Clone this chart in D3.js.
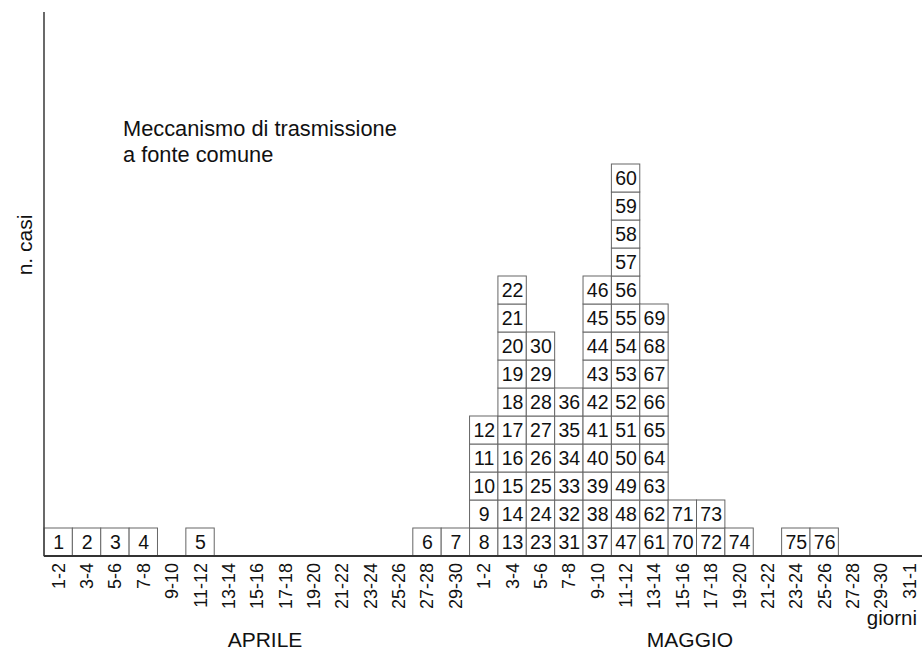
<!DOCTYPE html>
<html>
<head>
<meta charset="utf-8">
<script src="https://cdn.jsdelivr.net/npm/d3@7"></script>
<style>
  html, body { margin: 0; padding: 0; background: #fff; }
  svg { display: block; font-family: "Liberation Sans", Arial, sans-serif; }
</style>
</head>
<body>
<svg id="chart" width="922" height="651"></svg>
<script>
// ---- data ----
const categories = [
  "1-2","3-4","5-6","7-8","9-10","11-12","13-14","15-16","17-18","19-20",
  "21-22","23-24","25-26","27-28","29-30",
  "1-2 ","3-4 ","5-6 ","7-8 ","9-10 ","11-12 ","13-14 ","15-16 ","17-18 ","19-20 ",
  "21-22 ","23-24 ","25-26 ","27-28 ","29-30 ","31-1"
];
const counts = [
  1,1,1,1,0,1,0,0,0,0,0,0,0,1,1,
  5,10,8,6,10,14,9,2,2,1,0,1,1,0,0,0
];
const monthLabels = ["APRILE", "MAGGIO"];
const titleLines = ["Meccanismo di trasmissione", "a fonte comune"];
const yLabel = "n. casi";
const xLabel = "giorni";

// ---- layout ----
const svg = d3.select("#chart");
const margin = { left: 44, top: 12, bottom: 95 };
const W = 922, H = 651;
const plotBottom = H - margin.bottom; // 556
const cellW = 28.37;

const x = d3.scaleBand()
  .domain(categories)
  .range([margin.left, margin.left + categories.length * cellW])
  .padding(0);

const yMax = (plotBottom - margin.top) / 28;
const y = d3.scaleLinear().domain([0, yMax]).range([plotBottom, margin.top]);

// build cells: case numbers sequential, bottom to top per column
const cells = [];
let n = 0;
categories.forEach((c, i) => {
  for (let k = 0; k < counts[i]; k++) {
    n += 1;
    cells.push({ cat: c, level: k, num: n });
  }
});

const g = svg.append("g");
g.selectAll("rect.cell").data(cells).join("rect")
  .attr("class", "cell")
  .attr("x", d => x(d.cat))
  .attr("y", d => y(d.level + 1))
  .attr("width", x.bandwidth())
  .attr("height", y(0) - y(1))
  .attr("fill", "#fff")
  .attr("stroke", "#666")
  .attr("stroke-width", 1);

g.selectAll("text.num").data(cells).join("text")
  .attr("class", "num")
  .attr("x", d => x(d.cat) + x.bandwidth() / 2 + 0.5)
  .attr("y", d => (y(d.level) + y(d.level + 1)) / 2)
  .attr("dy", "0.36em")
  .attr("text-anchor", "middle")
  .attr("font-size", 19.5)
  .attr("fill", "#111")
  .text(d => d.num);

// y axis line
svg.append("line")
  .attr("x1", margin.left).attr("x2", margin.left)
  .attr("y1", y(yMax)).attr("y2", y(0))
  .attr("stroke", "#444").attr("stroke-width", 1.6);

// x axis
const xAxis = d3.axisBottom(x).tickSize(0).tickFormat(d => d.trim());
const ax = svg.append("g")
  .attr("transform", `translate(0,${plotBottom})`)
  .call(xAxis);
ax.select(".domain").remove();
ax.selectAll("text")
  .attr("font-size", 18)
  .attr("font-family", "Liberation Sans, Arial, sans-serif")
  .attr("fill", "#111")
  .attr("transform", "rotate(-90)")
  .attr("text-anchor", "end")
  .attr("x", -7)
  .attr("y", 0)
  .attr("dy", "0.36em");

svg.append("line")
  .attr("x1", margin.left).attr("x2", W)
  .attr("y1", plotBottom).attr("y2", plotBottom)
  .attr("stroke", "#333").attr("stroke-width", 2);

// month labels
const monthCenters = [265, 690];
monthLabels.forEach((m, i) => {
  svg.append("text")
    .attr("x", monthCenters[i]).attr("y", 647)
    .attr("text-anchor", "middle")
    .attr("font-size", 21)
    .attr("fill", "#111")
    .text(m);
});

// x label
svg.append("text")
  .attr("x", 917).attr("y", 625)
  .attr("text-anchor", "end")
  .attr("font-size", 20.5)
  .attr("fill", "#111")
  .text(xLabel);

// y label
svg.append("text")
  .attr("transform", "translate(32,245) rotate(-90)")
  .attr("text-anchor", "middle")
  .attr("font-size", 21)
  .attr("fill", "#111")
  .text(yLabel);

// title
svg.append("text")
  .attr("x", 123).attr("y", 136)
  .attr("font-size", 21.8)
  .attr("fill", "#111")
  .selectAll("tspan").data(titleLines).join("tspan")
  .attr("x", 123)
  .attr("dy", (d, i) => i === 0 ? 0 : 26)
  .text(d => d);
</script>
</body>
</html>
